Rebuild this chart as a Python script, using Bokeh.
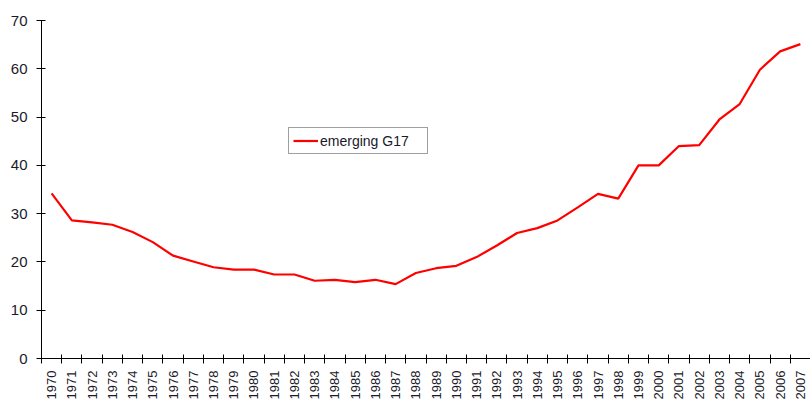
import numpy as np
from bokeh.plotting import figure
from bokeh.models import FixedTicker, Legend, LegendItem, ColumnDataSource, Range1d
from bokeh.embed import file_html
from bokeh.resources import INLINE

years = [str(y) for y in range(1970, 2008)]
emerging_g17 = [34.2, 28.6, 28.2, 27.7, 26.2, 24.1, 21.3, 20.1, 18.9, 18.4,
                18.4, 17.4, 17.4, 16.1, 16.3, 15.8, 16.3, 15.4, 17.7, 18.7,
                19.2, 21.0, 23.4, 26.0, 27.0, 28.6, 31.3, 34.1, 33.1, 40.0,
                40.0, 44.0, 44.2, 49.5, 52.7, 59.8, 63.6, 65.1]
y_ticks = [0, 10, 20, 30, 40, 50, 60, 70]

n = len(years)
centers = [i + 0.5 for i in range(n)]
bounds = list(range(0, n + 1))

src = ColumnDataSource(data=dict(x=centers, y=emerging_g17))

p = figure(width=810, height=402, output_backend="svg", toolbar_location=None,
           x_range=Range1d(0, 38.0), y_range=Range1d(0, 70),
           min_border_left=41, min_border_right=0, min_border_top=20, min_border_bottom=44)
p.outline_line_color = None
p.background_fill_color = "white"
p.border_fill_color = "white"

r = p.line("x", "y", source=src, line_color="#ff0000", line_width=2.2)

# x axis
p.xaxis.ticker = FixedTicker(ticks=centers, minor_ticks=bounds)
p.xaxis.major_label_overrides = {c: y for c, y in zip(centers, years)}
p.xaxis.major_tick_in = 0
p.xaxis.major_tick_out = 0
p.xaxis.minor_tick_in = 4
p.xaxis.minor_tick_out = 5
p.xaxis.minor_tick_line_color = "black"
p.xaxis.major_label_orientation = np.pi / 2
p.xaxis.major_label_standoff = 7
p.xaxis.major_label_text_font = "Liberation Sans"
p.xaxis.major_label_text_font_size = "13px"
p.xaxis.major_label_text_color = "#1a1a2a"
p.xaxis.axis_line_color = "black"

# y axis
p.yaxis.ticker = FixedTicker(ticks=y_ticks, minor_ticks=[])
p.yaxis.major_tick_in = 4
p.yaxis.major_tick_out = 5
p.yaxis.major_tick_line_color = "black"
p.yaxis.minor_tick_line_color = None
p.yaxis.major_label_standoff = 9
p.yaxis.major_label_text_font = "Liberation Sans"
p.yaxis.major_label_text_font_size = "15px"
p.yaxis.major_label_text_color = "#1a1a2a"
p.yaxis.axis_line_color = "black"

p.xgrid.grid_line_color = None
p.ygrid.ticker = FixedTicker(ticks=[70])
p.ygrid.grid_line_color = "#a0a0a0"
p.ygrid.grid_line_width = 1.5

legend = Legend(items=[LegendItem(label="emerging G17", renderers=[r])],
                location=(247, 204), orientation="vertical",
                padding=4, margin=0, spacing=0,
                glyph_width=25, glyph_height=17, label_standoff=2,
                label_height=17, label_width=103,
                label_text_font="Liberation Sans", label_text_font_size="14px",
                label_text_color="#1a1a2a",
                border_line_color="#404040", border_line_width=1.2,
                background_fill_color="white", background_fill_alpha=1)
p.add_layout(legend, "center")

open("out.html", "w").write(file_html(p, INLINE))
